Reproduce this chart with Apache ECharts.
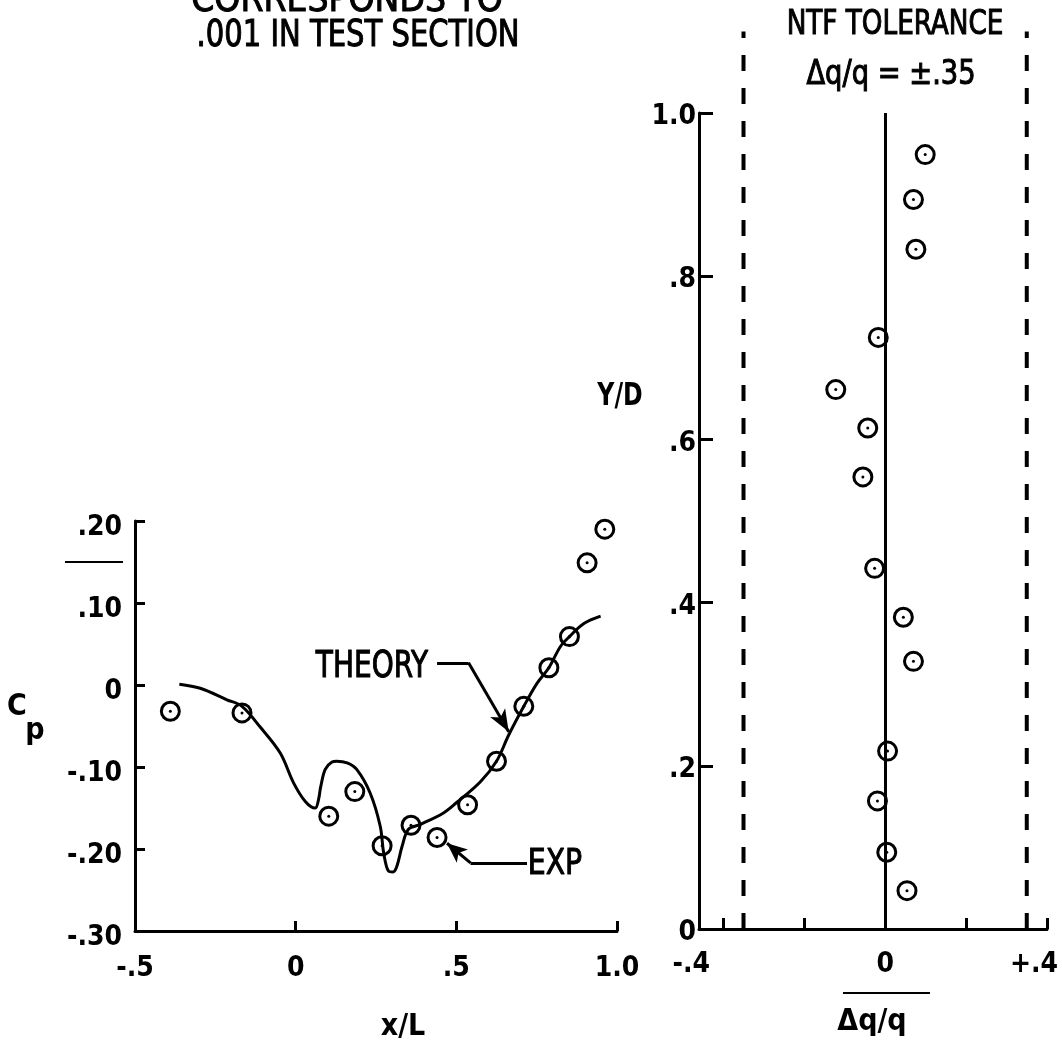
<!DOCTYPE html>
<html>
<head>
<meta charset="utf-8">
<script src="https://cdn.jsdelivr.net/npm/echarts@6/dist/echarts.min.js"></script>
<style>
  html, body { margin: 0; padding: 0; background: #fff; }
  #chart { width: 1062px; height: 1048px; }
</style>
</head>
<body>
<div id="chart"></div>
<script>
// Pressure coefficient along the body, x/L
const expX  = [-0.39, -0.167, 0.103, 0.184, 0.269, 0.359, 0.44, 0.535, 0.625, 0.71, 0.788, 0.852, 0.907, 0.962];
const expCp = [-0.032, -0.034, -0.160, -0.130, -0.196, -0.171, -0.186, -0.146, -0.093, -0.026, 0.021, 0.059, 0.149, 0.190];

const theoryX  = [-0.362, -0.297, -0.214, -0.167, -0.111, -0.048, -0.007, 0.030, 0.061, 0.071, 0.078, 0.092, 0.113,
                  0.128, 0.160, 0.190, 0.232, 0.263, 0.274, 0.289, 0.303, 0.315, 0.331, 0.351, 0.388, 0.460, 0.502,
                  0.575, 0.625, 0.663, 0.710, 0.751, 0.788, 0.824, 0.852, 0.897, 0.949];
const theoryCp = [0.001, -0.004, -0.018, -0.026, -0.051, -0.083, -0.119, -0.142, -0.150, -0.140, -0.124, -0.103, -0.094,
                  -0.093, -0.095, -0.103, -0.132, -0.172, -0.205, -0.227, -0.228, -0.221, -0.197, -0.176, -0.170, -0.156, -0.143,
                  -0.118, -0.093, -0.061, -0.026, 0.002, 0.021, 0.047, 0.059, 0.075, 0.084];

// Dynamic pressure survey across the test section
const surveyDq = [0.099, 0.070, 0.076, -0.017, -0.122, -0.043, -0.055, -0.026, 0.045, 0.070, 0.006, -0.019, 0.004, 0.054];
const surveyYD = [0.949, 0.894, 0.833, 0.725, 0.661, 0.614, 0.554, 0.442, 0.382, 0.328, 0.218, 0.157, 0.094, 0.047];
const tolerance = 0.35;
const toleranceTop = 1.1;

// Tick values and their printed labels
const xlTickValues = [-0.5, 0, 0.5, 1.0];
const xlTickLabels = ['-.5', '0', '.5', '1.0'];
const cpTickValues = [-0.3, -0.2, -0.1, 0, 0.1, 0.2];
const cpTickLabels = ['-.30', '-.20', '-.10', '0', '.10', '.20'];
const dqTickValues = [-0.4, -0.2, 0, 0.2, 0.4];
const dqLabelValues = [-0.4, 0, 0.4];
const dqTickLabels = ['-.4', '0', '+.4'];
const ydTickValues = [0, 0.2, 0.4, 0.6, 0.8, 1.0];
const ydTickLabels = ['0', '.2', '.4', '.6', '.8', '1.0'];

const FONT = '"Liberation Sans Narrow", "DejaVu Sans Condensed", "Roboto Condensed", "Liberation Sans", sans-serif';
const INK = '#000';

function lookup(values, labels) {
  return v => {
    const i = values.findIndex(t => Math.abs(t - v) < 1e-6);
    return i < 0 ? '' : labels[i];
  };
}
const zip = (a, b) => a.map((v, i) => [v, b[i]]);

const axisLabelBase = { color: INK, fontFamily: FONT, fontWeight: 'bold', fontSize: 28 };
const axisLineBase = { show: true, onZero: false, lineStyle: { color: INK, width: 3 } };
const tickStyle = { color: INK, width: 3 };
const richLabel = { fontFamily: FONT, fontWeight: 'bold', fontSize: 28, color: INK };

const chart = echarts.init(document.getElementById('chart'), null, { renderer: 'canvas' });

// Hand-lettered captions: condensed face with a light outline for weight
function label(x, y, text, font, sx, heavy) {
  return {
    type: 'text', x: x, y: y, scaleX: sx || 1,
    style: {
      text: text, font: font, fill: INK,
      stroke: heavy ? INK : null, lineWidth: heavy ? 1 : 0,
      textAlign: 'center', textVerticalAlign: 'middle', align: 'center', verticalAlign: 'middle'
    }
  };
}

const option = {
  animation: false,
  backgroundColor: '#fff',
  grid: [
    { left: 135, top: 521, width: 482, height: 410, outerBoundsMode: 'none' },
    { left: 699, top: 113, width: 348, height: 816, outerBoundsMode: 'none' }
  ],
  xAxis: [
    {
      gridIndex: 0, type: 'value', min: -0.5, max: 1.0,
      axisLine: axisLineBase,
      axisTick: { show: true, inside: true, length: 10, customValues: [0, 0.5, 1.0], lineStyle: tickStyle },
      axisLabel: Object.assign({}, axisLabelBase, {
        customValues: xlTickValues, formatter: lookup(xlTickValues, xlTickLabels), margin: 24
      }),
      splitLine: { show: false }
    },
    {
      gridIndex: 1, type: 'value', min: -0.46, max: 0.4,
      axisLine: axisLineBase,
      axisTick: { show: true, inside: true, length: 11, customValues: dqTickValues, lineStyle: tickStyle },
      axisLabel: Object.assign({}, axisLabelBase, {
        customValues: dqLabelValues,
        formatter: v => {
          const s = lookup(dqLabelValues, dqTickLabels)(v);
          if (v < -0.3) return '{lead|' + s + '}';
          if (v > 0.3) return '{tail|' + s + '}';
          return s;
        },
        rich: {
          lead: Object.assign({ padding: [0, 64, 0, 0] }, richLabel),
          tail: Object.assign({ padding: [0, 26, 0, 0] }, richLabel)
        },
        margin: 22
      }),
      splitLine: { show: false }
    }
  ],
  yAxis: [
    {
      gridIndex: 0, type: 'value', min: -0.3, max: 0.2,
      axisLine: axisLineBase,
      axisTick: { show: true, inside: true, length: 10, customValues: cpTickValues, lineStyle: tickStyle },
      axisLabel: Object.assign({}, axisLabelBase, {
        customValues: cpTickValues,
        formatter: v => '{d|' + lookup(cpTickValues, cpTickLabels)(v) + '}',
        rich: { d: Object.assign({ padding: [14, 0, 0, 0] }, richLabel) },
        margin: 13
      }),
      splitLine: { show: false }
    },
    {
      gridIndex: 1, type: 'value', min: 0, max: 1.0,
      axisLine: axisLineBase,
      axisTick: { show: true, inside: true, length: 14, customValues: ydTickValues, lineStyle: tickStyle },
      axisLabel: Object.assign({}, axisLabelBase, {
        customValues: ydTickValues,
        formatter: v => '{d|' + lookup(ydTickValues, ydTickLabels)(v) + '}',
        rich: { d: Object.assign({ padding: [8, 0, 0, 0] }, richLabel) },
        margin: 3
      }),
      splitLine: { show: false }
    }
  ],
  series: [
    {
      name: 'THEORY', type: 'line', xAxisIndex: 0, yAxisIndex: 0,
      data: zip(theoryX, theoryCp),
      smooth: 0.35, showSymbol: false, symbol: 'none',
      lineStyle: { color: INK, width: 3 },
      z: 2,
      markLine: {
        silent: true, animation: false,
        symbol: ['none', 'none'],
        label: { show: false },
        lineStyle: { color: INK, width: 3, type: 'solid' },
        data: [
          [{ coord: [0.44, 0.027] }, { coord: [0.538, 0.027] }],
          [{ coord: [0.538, 0.027] }, { coord: [0.663, -0.057], symbol: 'arrow', symbolSize: [13, 22] }],
          [{ coord: [0.72, -0.217] }, { coord: [0.544, -0.217] }],
          [{ coord: [0.544, -0.217] }, { coord: [0.471, -0.193], symbol: 'arrow', symbolSize: [13, 20] }]
        ]
      }
    },
    {
      name: 'EXP', type: 'scatter', xAxisIndex: 0, yAxisIndex: 0,
      data: zip(expX, expCp),
      symbol: 'circle', symbolSize: 18,
      itemStyle: { color: 'rgba(0,0,0,0)', borderColor: INK, borderWidth: 3, opacity: 1 },
      z: 3
    },
    {
      name: 'EXP centre', type: 'scatter', xAxisIndex: 0, yAxisIndex: 0,
      data: zip(expX, expCp),
      symbol: 'circle', symbolSize: 3,
      itemStyle: { color: INK, opacity: 1 },
      z: 4
    },
    {
      name: 'Survey', type: 'scatter', xAxisIndex: 1, yAxisIndex: 1,
      data: zip(surveyDq, surveyYD),
      symbol: 'circle', symbolSize: 18,
      itemStyle: { color: 'rgba(0,0,0,0)', borderColor: INK, borderWidth: 3, opacity: 1 },
      z: 3,
      markLine: {
        silent: true, animation: false,
        symbol: ['none', 'none'],
        label: { show: false },
        lineStyle: { color: INK, width: 3, type: 'solid' },
        data: [{ xAxis: 0 }]
      }
    },
    {
      name: 'Survey centre', type: 'scatter', xAxisIndex: 1, yAxisIndex: 1,
      data: zip(surveyDq, surveyYD),
      symbol: 'circle', symbolSize: 3,
      itemStyle: { color: INK, opacity: 1 },
      z: 4
    },
    {
      name: 'Tolerance -', type: 'line', xAxisIndex: 1, yAxisIndex: 1,
      data: [[-tolerance, 0], [-tolerance, toleranceTop]],
      clip: false, showSymbol: false, symbol: 'none',
      lineStyle: { color: INK, width: 4, type: [16, 17] }
    },
    {
      name: 'Tolerance +', type: 'line', xAxisIndex: 1, yAxisIndex: 1,
      data: [[tolerance, 0], [tolerance, toleranceTop]],
      clip: false, showSymbol: false, symbol: 'none',
      lineStyle: { color: INK, width: 4, type: [16, 17] }
    }
  ],
  graphic: [
    label(347, 1, 'CORRESPONDS TO', '38px ' + FONT, 0.97, true),
    label(358, 36, '.001 IN TEST SECTION', '38px ' + FONT, 0.85, true),
    label(895, 25, 'NTF TOLERANCE', '33px ' + FONT, 0.885, true),
    label(891, 75, 'Δq/q = ±.35', '33px ' + FONT, 0.92, true),
    label(620, 397, 'Y/D', 'bold 32px ' + FONT, 0.82),
    label(372, 667, 'THEORY', '37px ' + FONT, 0.84, true),
    label(555, 865, 'EXP', '35px ' + FONT, 0.9, true),
    label(403, 1027, 'x/L', 'bold 30px ' + FONT, 1),
    label(872, 1022, 'Δq/q', 'bold 30px ' + FONT, 1),
    label(17, 707, 'C', 'bold 30px ' + FONT, 1),
    label(35, 731, 'p', 'bold 30px ' + FONT, 1),
    { type: 'line', shape: { x1: 65, y1: 562, x2: 123, y2: 562 }, style: { stroke: INK, lineWidth: 2 } },
    { type: 'line', shape: { x1: 843, y1: 993, x2: 930, y2: 993 }, style: { stroke: INK, lineWidth: 2 } }
  ]
};

chart.setOption(option);
</script>
</body>
</html>
